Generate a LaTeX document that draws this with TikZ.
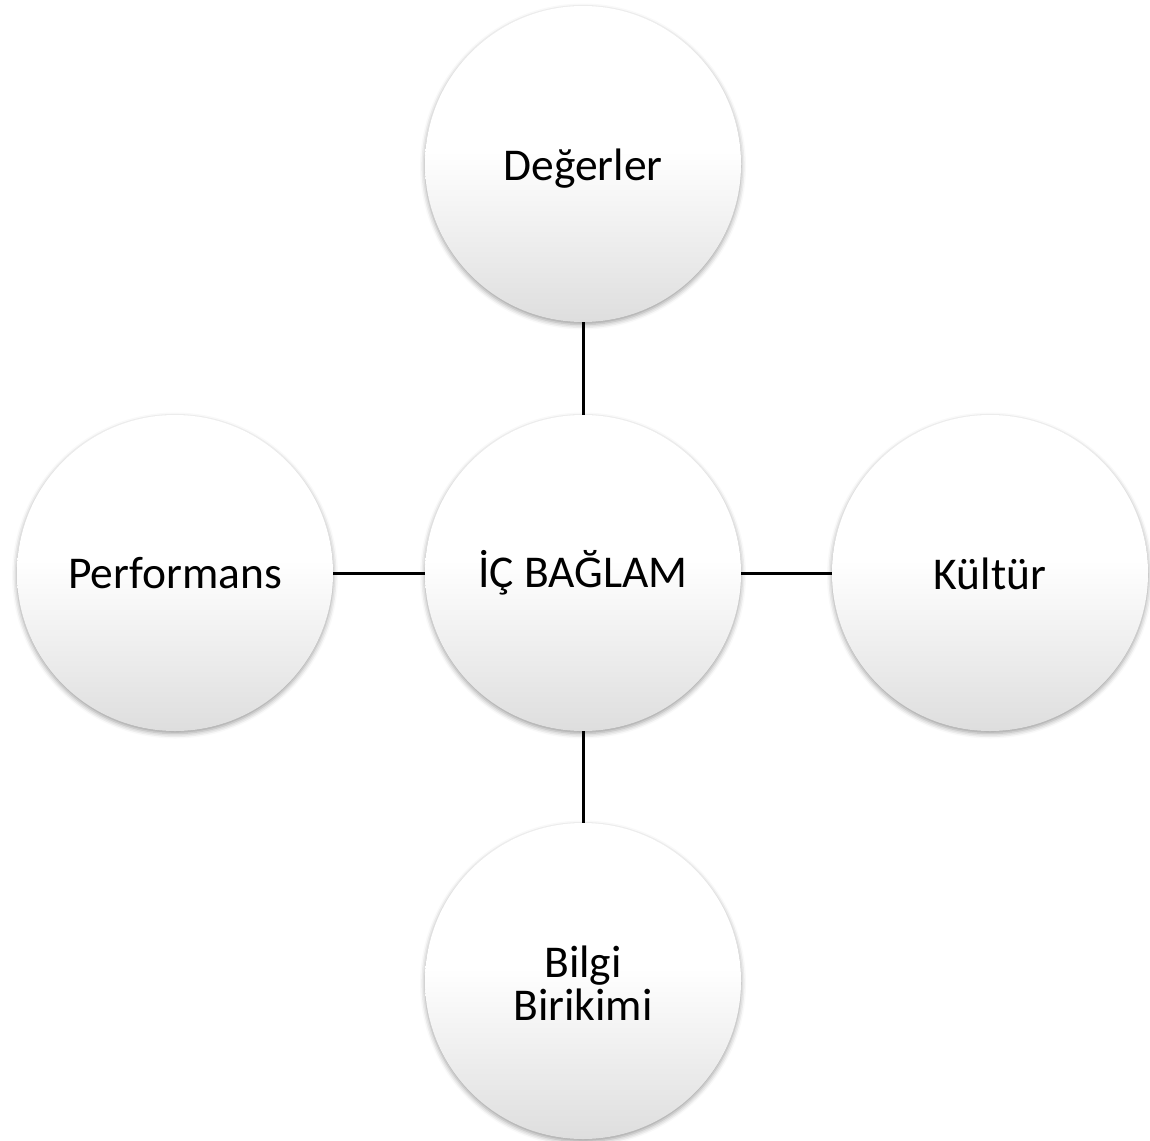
\documentclass[tikz,border=0pt]{standalone}
\usepackage{fontspec}
\setmainfont{Carlito}
\usetikzlibrary{shadows.blur}

% white upper half, fading to light grey at the bottom
\pgfdeclareverticalshading{orbshade}{100bp}{%
  color(0bp)=(gray!26); color(25bp)=(gray!26); color(52bp)=(white); color(100bp)=(white)}

\tikzset{
  orb/.style={circle, minimum size=316pt, inner sep=0pt, shading=orbshade,
    blur shadow={shadow xshift=0pt, shadow yshift=-2.5pt, shadow blur radius=5pt, shadow opacity=40}},
  orbtext/.style={anchor=base, inner sep=0pt, font=\fontsize{45.5}{44}\selectfont, text=black},
  link/.style={draw=black, line width=3pt}
}

\begin{document}
\begin{tikzpicture}[x=1pt, y=-1pt]
  \useasboundingbox (0,0) rectangle (1150,1140);

  % circles
  \node[orb] (hub)   at (583,573) {};
  \node[orb] (top)   at (583,164) {};
  \node[orb] (left)  at (175,573) {};
  \node[orb] (right) at (990,573) {};
  \node[orb] (bot)   at (583,981) {};

  % labels
  \node[orbtext, yshift=-14pt] (hubtxt)   at (hub.center)   {İÇ BAĞLAM};
  \node[orbtext, yshift=-16pt] (toptxt)   at (top.center)   {Değerler};
  \node[orbtext, yshift=-15pt] (lefttxt)  at (left.center)  {Performans};
  \node[orbtext, yshift=-16pt] (righttxt) at (right.center) {Kültür};
  \node[orbtext, yshift=4pt]   (bottxt1)  at (bot.center)   {Bilgi};
  \node[orbtext, yshift=-39pt] (bottxt2)  at (bot.center)   {Birikimi};

  % connectors
  \draw[link] (top.south) -- (hub.north);
  \draw[link] (hub.south) -- (bot.north);
  \draw[link] (left.east) -- (hub.west);
  \draw[link] (hub.east) -- (right.west);
\end{tikzpicture}
\end{document}
